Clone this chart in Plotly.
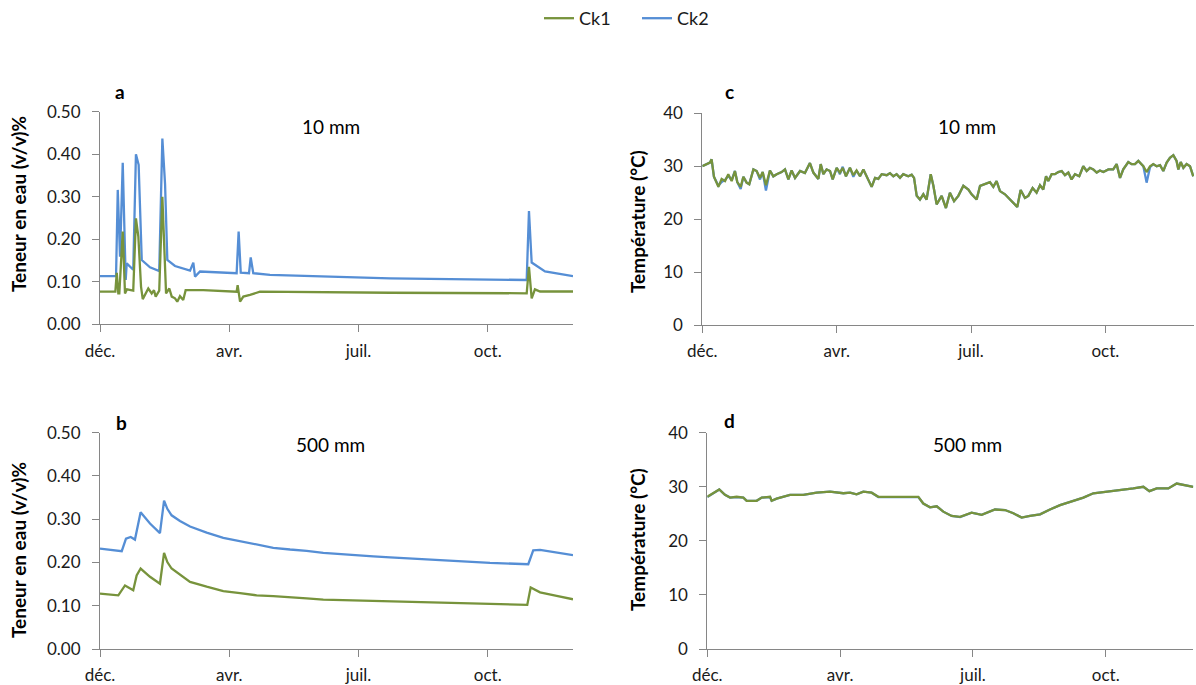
import plotly.graph_objects as go

W, H = 1196, 685
GREEN = "#77933C"
BLUE = "#558ED5"
AXIS = "#868686"
FONT = "Lato"

# ---------------- data ----------------
# x = days since start of record (early December)
tick_days = [0, 91, 182, 273]
tick_labels = ["déc.", "avr.", "juil.", "oct."]

# Panel a : water content, 10 mm
a_ck2_days = [0, 11.3, 12.5, 14.1, 16.0, 18.1, 18.8, 23.4, 25.3, 27.2, 29.4, 35.2, 41.7,
              43.9, 45.8, 47.4, 52.8, 63.4, 65.7, 66.9, 70.4, 96.2, 97.6, 99.1, 104.9,
              106.1, 107.9, 119.7, 204.2, 300.4, 302.0, 303.9, 313.3, 333]
a_ck2 = [0.113, 0.113, 0.316, 0.159, 0.380, 0.104, 0.143, 0.128, 0.400, 0.375, 0.151,
         0.134, 0.125, 0.437, 0.330, 0.151, 0.137, 0.126, 0.145, 0.112, 0.124, 0.120,
         0.218, 0.121, 0.120, 0.157, 0.120, 0.116, 0.108, 0.104, 0.266, 0.145, 0.124, 0.113]

a_ck1_days = [0, 10.8, 11.8, 12.9, 13.6, 16.0, 17.6, 19.0, 23.4, 25.3, 27.0, 28.9, 30.1,
              34.0, 36.4, 38.0, 39.2, 41.7, 43.9, 46.5, 48.8, 50.5, 52.8, 54.4, 56.3,
              58.6, 60.3, 72.7, 96.2, 96.9, 98.6, 100.9, 105.6, 112.6, 204.2, 300.4,
              302.0, 303.9, 306.2, 309.8, 333]
a_ck1 = [0.0765, 0.0765, 0.121, 0.0725, 0.0725, 0.218, 0.0725, 0.082, 0.079, 0.249,
         0.206, 0.088, 0.059, 0.084, 0.0725, 0.080, 0.065, 0.079, 0.300, 0.0725, 0.084,
         0.065, 0.061, 0.053, 0.066, 0.057, 0.080, 0.080, 0.0765, 0.092, 0.053, 0.065,
         0.069, 0.0765, 0.074, 0.0727, 0.135, 0.061, 0.082, 0.077, 0.077]

# Panel b : water content, 500 mm
b_ck2_days = [0, 15.3, 18.3, 21.6, 24.6, 28.6, 35.2, 42.2, 45.1, 47.4, 50.4, 56.3, 63.4,
              75.1, 86.8, 98.6, 110.3, 122.0, 133.8, 145.5, 157.2, 169.0, 180.7, 192.4,
              204.2, 240.0, 274.6, 301.5, 305.0, 309.8, 333]
b_ck2 = [0.232, 0.226, 0.255, 0.259, 0.253, 0.316, 0.290, 0.268, 0.343, 0.324, 0.309,
         0.296, 0.283, 0.269, 0.257, 0.249, 0.241, 0.234, 0.230, 0.227, 0.222, 0.219,
         0.217, 0.214, 0.212, 0.205, 0.199, 0.196, 0.228, 0.229, 0.217]

b_ck1_days = [0, 12.9, 17.6, 23.4, 25.8, 28.6, 35.2, 42.2, 45.1, 47.4, 50.4, 56.3, 63.4,
              75.1, 86.8, 98.6, 110.3, 122.0, 133.8, 145.5, 157.2, 180.0, 204.2, 240.0,
              274.6, 300.8, 303.2, 309.8, 321.5, 333]
b_ck1 = [0.128, 0.124, 0.147, 0.136, 0.170, 0.186, 0.167, 0.151, 0.222, 0.201, 0.186,
         0.172, 0.155, 0.144, 0.134, 0.129, 0.124, 0.122, 0.120, 0.117, 0.114, 0.112,
         0.109, 0.106, 0.104, 0.102, 0.142, 0.131, 0.123, 0.115]

# Panel c : temperature, 10 mm
c_days = [0.0, 5.2, 6.3, 7.9, 10.9, 13.1, 15.4, 17.6, 19.9, 22.1, 23.7, 26.0, 27.8, 30.0,
          31.8, 34.6, 36.8, 39.1, 40.9, 43.1, 45.8, 48.1, 50.4, 53.7, 56.0, 58.3, 60.5,
          62.8, 66.2, 69.5, 72.9, 75.2, 78.6, 80.2, 82.0, 84.2, 86.5, 88.3, 91.0, 93.2,
          95.1, 97.3, 100.0, 102.3, 104.5, 106.8, 109.1, 111.3, 114.7, 117.0, 119.2,
          121.5, 124.9, 127.1, 129.4, 131.6, 133.9, 136.1, 139.5, 141.8, 143.4, 145.2,
          147.4, 149.7, 151.9, 154.7, 156.5, 158.7, 161.0, 162.1, 165.0, 167.7, 170.5,
          173.4, 176.8, 180.2, 182.4, 185.8, 188.1, 191.4, 194.8, 197.1, 199.3, 201.6,
          205.0, 208.4, 210.6, 213.3, 215.6, 218.5, 220.8, 223.7, 226.4, 228.7, 230.9,
          232.8, 234.3, 236.6, 238.8, 241.1, 243.4, 245.6, 247.9, 250.1, 252.4, 255.3,
          258.0, 260.3, 262.5, 264.8, 267.1, 269.3, 271.6, 275.0, 278.3, 280.6, 282.9,
          285.1, 288.5, 290.8, 293.0, 295.3, 298.7, 300.9, 303.2, 305.4, 307.7, 310.0,
          312.2, 314.5, 316.7, 319.0, 321.2, 322.4, 324.0, 325.8, 328.0, 330.3, 332.5]
c_ck1 = [30.0, 30.7, 31.3, 28.0, 26.1, 27.6, 27.2, 28.5, 27.2, 29.1, 27.0, 26.1, 28.0,
         26.9, 26.6, 29.4, 29.1, 27.8, 28.9, 26.4, 29.2, 28.1, 28.5, 28.9, 29.4, 27.5,
         29.2, 27.8, 29.1, 28.7, 30.6, 28.8, 27.6, 30.4, 28.5, 29.4, 29.1, 27.5, 29.7,
         28.8, 29.7, 28.1, 29.7, 28.3, 29.2, 28.1, 29.4, 28.0, 26.1, 27.8, 27.6, 28.5,
         28.3, 28.7, 28.1, 28.5, 27.8, 28.5, 28.1, 28.4, 27.8, 24.4, 23.7, 24.7, 23.7,
         28.5, 26.3, 22.8, 24.0, 24.4, 22.1, 25.0, 23.4, 24.4, 26.3, 25.6, 24.7, 23.7,
         26.3, 26.6, 27.0, 26.1, 27.2, 25.3, 24.7, 23.7, 23.1, 22.3, 25.5, 24.0, 24.4,
         25.9, 25.0, 26.4, 25.6, 28.1, 27.2, 28.5, 28.5, 28.9, 29.1, 28.3, 28.8, 27.5,
         28.5, 28.1, 30.0, 29.1, 29.7, 29.4, 28.8, 29.2, 28.9, 29.4, 29.4, 30.4, 27.8,
         29.4, 30.8, 30.4, 30.4, 31.0, 30.0, 28.9, 30.0, 30.4, 30.0, 30.2, 29.1, 30.7,
         31.6, 32.1, 31.0, 29.4, 30.8, 29.7, 30.4, 30.0, 28.1]
c_ck2 = [30.0, 30.7, 31.3, 28.0, 26.3, 27.0, 27.4, 28.2, 27.4, 29.1, 27.0, 25.7, 28.0,
         26.9, 26.6, 29.4, 29.1, 27.5, 28.9, 25.4, 29.2, 28.1, 28.5, 28.9, 29.4, 27.5,
         29.2, 27.8, 29.1, 28.7, 30.6, 28.8, 27.6, 30.4, 28.5, 29.4, 29.1, 27.5, 29.7,
         28.5, 29.9, 28.1, 29.7, 28.0, 29.2, 28.1, 29.4, 28.0, 26.1, 27.8, 27.6, 28.5,
         28.3, 28.7, 28.1, 28.5, 27.8, 28.5, 28.1, 28.4, 27.8, 24.4, 23.7, 24.7, 23.7,
         28.5, 26.3, 22.8, 24.0, 24.4, 22.1, 25.0, 23.4, 24.4, 26.3, 25.6, 24.7, 23.7,
         26.3, 26.6, 27.0, 26.1, 27.2, 25.3, 24.7, 23.7, 23.1, 22.3, 25.5, 24.0, 24.4,
         25.9, 25.0, 26.4, 25.6, 28.1, 27.2, 28.5, 28.5, 28.9, 29.1, 28.3, 28.8, 27.5,
         28.5, 28.1, 30.0, 29.1, 29.7, 29.4, 28.8, 29.2, 28.9, 29.4, 29.4, 30.4, 27.8,
         29.4, 30.8, 30.4, 30.4, 31.0, 30.0, 26.9, 29.8, 30.4, 30.0, 30.2, 29.1, 30.7,
         31.6, 32.1, 31.0, 29.4, 30.8, 29.7, 30.4, 30.0, 28.1]

# Panel d : temperature, 500 mm
d_days = [0, 4.1, 8.2, 12.1, 15.6, 20.1, 24.7, 27.0, 33.8, 37.3, 43.0, 44.1, 47.5, 56.7,
          65.8, 74.9, 84.1, 93.2, 97.8, 102.3, 106.9, 112.6, 117.2, 125.2, 134.3, 144.6,
          148.0, 152.6, 157.2, 161.7, 167.4, 173.2, 181.1, 188.0, 197.1, 204.0, 209.7,
          215.4, 221.1, 228.0, 234.8, 241.7, 250.8, 257.7, 264.5, 273.6, 280.5, 285.1,
          291.9, 298.8, 302.9, 307.9, 315.9, 321.6, 328.5, 333.0]
d_ck1 = [28.15, 28.8, 29.5, 28.5, 28.0, 28.15, 28.0, 27.4, 27.4, 28.0, 28.15, 27.4, 27.8,
         28.5, 28.5, 28.9, 29.1, 28.8, 28.9, 28.6, 29.1, 28.9, 28.15, 28.15, 28.15, 28.15,
         26.9, 26.2, 26.4, 25.4, 24.6, 24.45, 25.2, 24.8, 25.8, 25.7, 25.1, 24.3, 24.6,
         24.9, 25.8, 26.6, 27.4, 28.0, 28.8, 29.1, 29.2, 29.4, 29.7, 30.0, 29.2, 29.7,
         29.7, 30.6, 30.3, 30.0]
d_ck2 = [28.1, 28.8, 29.5, 28.5, 28.0, 28.1, 28.0, 27.4, 27.4, 28.0, 28.1, 27.4, 27.8,
         28.5, 28.5, 28.9, 29.1, 28.8, 28.9, 28.6, 29.1, 28.9, 28.1, 28.1, 28.1, 28.1,
         26.9, 26.2, 26.4, 25.4, 24.6, 24.4, 25.2, 24.8, 25.8, 25.7, 25.1, 24.3, 24.6,
         24.9, 25.8, 26.6, 27.4, 28.0, 28.8, 29.1, 29.2, 29.4, 29.7, 30.0, 29.2, 29.7,
         29.7, 30.6, 30.3, 30.0]

# ---------------- layout helpers (pixel -> paper) ----------------
def px(x):
    return x / W

def py(y):
    return 1 - y / H

fig = go.Figure()

def add_pair(xa, ya, d2, v2, d1, v1, show):
    fig.add_trace(go.Scatter(x=d2, y=v2, mode="lines", name="Ck2",
                             line=dict(color=BLUE, width=2.3),
                             xaxis=xa, yaxis=ya, showlegend=show, legendrank=2,
                             legendgroup="ck2"))
    fig.add_trace(go.Scatter(x=d1, y=v1, mode="lines", name="Ck1",
                             line=dict(color=GREEN, width=2.3),
                             xaxis=xa, yaxis=ya, showlegend=show, legendrank=1,
                             legendgroup="ck1"))

add_pair("x", "y", a_ck2_days, a_ck2, a_ck1_days, a_ck1, True)
add_pair("x2", "y2", b_ck2_days, b_ck2, b_ck1_days, b_ck1, False)
add_pair("x3", "y3", c_days, c_ck2, c_days, c_ck1, False)
add_pair("x4", "y4", d_days, d_ck2, d_days, d_ck1, False)

tickfont = dict(family=FONT, size=17, color="#1a1a1a")

def xax(domain, anchor):
    return dict(domain=domain, anchor=anchor, range=[0, 333], tickvals=tick_days,
                ticktext=tick_labels, showline=True, linecolor=AXIS, linewidth=1,
                ticks="outside", ticklen=7, tickcolor=AXIS, showgrid=False,
                zeroline=False, tickfont=tickfont, ticklabelstandoff=4,
                automargin=False, fixedrange=True)

def yax(domain, anchor, rng, dtick, fmt):
    return dict(domain=domain, anchor=anchor, range=rng, dtick=dtick, tick0=0,
                tickformat=fmt, showline=True, linecolor=AXIS, linewidth=1,
                ticks="outside", ticklen=7, tickcolor=AXIS, showgrid=False,
                zeroline=False, tickfont=tickfont, ticklabelstandoff=8,
                automargin=False, fixedrange=True)

fig.update_layout(
    width=W, height=H,
    margin=dict(l=0, r=0, t=0, b=0, autoexpand=False),
    paper_bgcolor="white", plot_bgcolor="white",
    font=dict(family=FONT, color="#1a1a1a"),
    xaxis=xax([px(100), px(573)], "y"),
    yaxis=yax([py(324.2), py(111.7)], "x", [0, 0.5], 0.1, ".2f"),
    xaxis2=xax([px(100), px(573)], "y2"),
    yaxis2=yax([py(649), py(432.7)], "x2", [0, 0.5], 0.1, ".2f"),
    xaxis3=xax([px(702.3), px(1194)], "y3"),
    yaxis3=yax([py(325), py(113.3)], "x3", [0, 40], 10, "d"),
    xaxis4=xax([px(707.3), px(1193.3)], "y4"),
    yaxis4=yax([py(649), py(432.7)], "x4", [0, 40], 10, "d"),
    legend=dict(orientation="h", x=px(637), y=1, xanchor="center", yanchor="top",
                entrywidth=53, entrywidthmode="pixels",
                font=dict(family=FONT, size=18, color="#1a1a1a"), bgcolor="rgba(0,0,0,0)"),
    showlegend=True,
)

def ann(x, y, text, size, bold=False, angle=0):
    fig.add_annotation(x=px(x), y=py(y), xref="paper", yref="paper", text=text,
                       showarrow=False, xanchor="center", yanchor="middle",
                       textangle=angle,
                       font=dict(family=FONT, size=size, color="#000000",
                                 weight="bold" if bold else "normal"))

# panel letters
ann(120, 91, "a", 19, bold=True)
ann(121, 422, "b", 19, bold=True)
ann(729, 91, "c", 19, bold=True)
ann(729, 420, "d", 19, bold=True)
# depth titles
ann(331, 126, "10 mm", 19)
ann(330, 444, "500 mm", 19)
ann(967, 126, "10 mm", 19)
ann(967, 444, "500 mm", 19)
# axis titles
ann(18, 204, "Teneur en eau (v/v)%", 19, bold=True, angle=-90)
ann(18, 550, "Teneur en eau (v/v)%", 19, bold=True, angle=-90)
ann(637, 222, "Température (°C)", 19, bold=True, angle=-90)
ann(637, 540, "Température (°C)", 19, bold=True, angle=-90)

fig.write_html("out.html", config={"displayModeBar": False},
               post_script="document.body.style.margin='0px';")
